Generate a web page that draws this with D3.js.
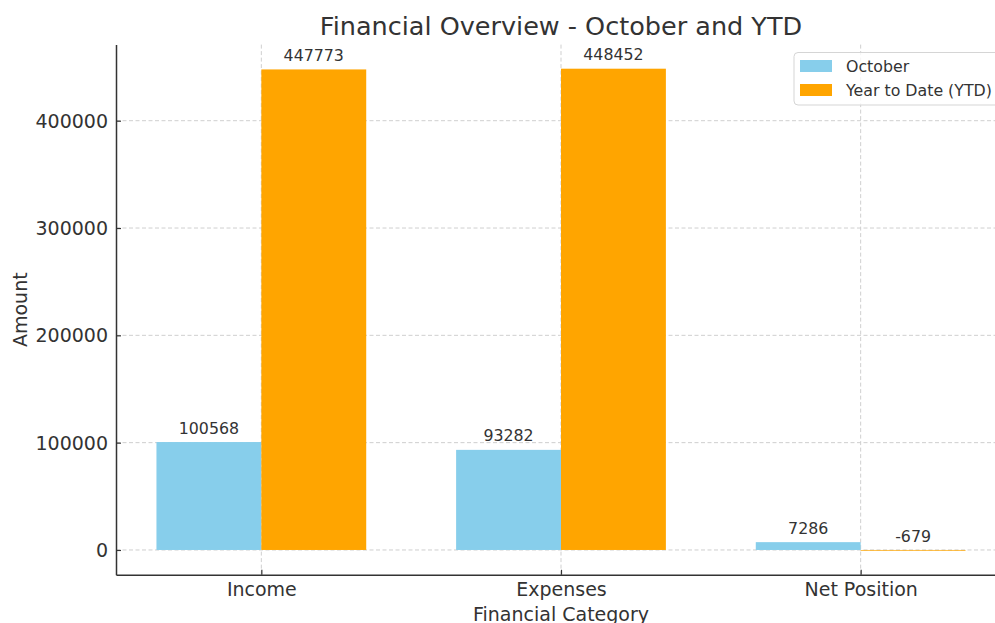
<!DOCTYPE html>
<html><head><meta charset="utf-8">
<script src="https://cdn.jsdelivr.net/npm/d3@7"></script>
<style>body{margin:0;background:#fff;} svg{display:block;} text{font-family:"DejaVu Sans",sans-serif;fill:#333;}</style>
</head><body>
<svg id="c" width="995" height="623"></svg>
<script>
const categories = ["Income", "Expenses", "Net Position"];
const october = [100568, 93282, 7286];
const ytd = [447773, 448452, -679];
const seriesNames = ["October", "Year to Date (YTD)"];
const seriesColors = ["#87CEEB", "#FFA500"];
const yTicks = [0, 100000, 200000, 300000, 400000];

const svg = d3.select("#c");
const L = 116, R = 1006, T = 44.6, B = 574.8;
const bw = 0.35;
const xmin = -bw, xmax = categories.length - 1 + bw, xm = (xmax - xmin) * 0.05;
const x = d3.scaleLinear().domain([xmin - xm, xmax + xm]).range([L, R]);
const all = october.concat(ytd, [0]);
const dmin = d3.min(all), dmax = d3.max(all), ym = (dmax - dmin) * 0.05;
const y = d3.scaleLinear().domain([dmin - ym, dmax + ym]).range([B, T]);

// grid
const g = svg.append("g");
g.selectAll(".hg").data(yTicks).join("line")
  .attr("x1", L).attr("x2", R).attr("y1", d => y(d)).attr("y2", d => y(d))
  .attr("stroke", "#cfcfcf").attr("stroke-width", 1).attr("stroke-dasharray", "4,2.5");
g.selectAll(".vg").data(categories).join("line")
  .attr("x1", (d, i) => x(i)).attr("x2", (d, i) => x(i)).attr("y1", T).attr("y2", B)
  .attr("stroke", "#cfcfcf").attr("stroke-width", 1).attr("stroke-dasharray", "4,2.5");

const series = [october, ytd];
series.forEach((vals, s) => {
  const off = s === 0 ? -bw : 0;
  svg.append("g").selectAll("rect").data(vals).join("rect")
    .attr("x", (d, i) => x(i + off))
    .attr("width", (d, i) => x(i + off + bw) - x(i + off))
    .attr("y", d => Math.min(y(d), y(0)))
    .attr("height", d => Math.max(Math.abs(y(d) - y(0)), 0.6))
    .attr("fill", seriesColors[s]);
  svg.append("g").selectAll("text").data(vals).join("text")
    .attr("x", (d, i) => x(i + off + bw / 2))
    .attr("y", d => y(d) - 8.5)
    .attr("text-anchor", "middle").attr("font-size", 15.8)
    .text(d => d);
});

// axes
const xAxis = d3.axisBottom(x).tickValues(categories.map((d, i) => i)).tickFormat(i => categories[i]).tickSizeInner(-5).tickSizeOuter(0).tickPadding(10);
const xa = svg.append("g").attr("transform", `translate(0,${B})`).call(xAxis);
const yAxis = d3.axisLeft(y).tickValues(yTicks).tickFormat(d => d).tickSizeInner(-5).tickSizeOuter(0).tickPadding(8);
const ya = svg.append("g").attr("transform", `translate(${L},0)`).call(yAxis);
[xa, ya].forEach(a => {
  a.select(".domain").attr("stroke", "#333").attr("stroke-width", 1.5);
  a.selectAll(".tick line").attr("stroke", "#333").attr("stroke-width", 1.2);
  a.selectAll(".tick text").attr("font-size", 19).attr("fill", "#333").attr("font-family", '"DejaVu Sans",sans-serif');
});
xa.selectAll(".tick text").attr("dy", null).attr("y", 21.5);
ya.selectAll(".tick text").attr("dy", "0.35em");

// labels
svg.append("text").attr("x", (L + R) / 2).attr("y", 35).attr("text-anchor", "middle").attr("font-size", 25.5)
  .text("Financial Overview - October and YTD");
svg.append("text").attr("x", (L + R) / 2).attr("y", 620.5).attr("text-anchor", "middle").attr("font-size", 19)
  .text("Financial Category");
svg.append("text").attr("transform", `translate(27,${(T + B) / 2}) rotate(-90)`).attr("text-anchor", "middle").attr("font-size", 19)
  .text("Amount");

// legend
const lg = svg.append("g");
lg.append("rect").attr("x", 794).attr("y", 52.5).attr("width", 210).attr("height", 52.5).attr("rx", 4)
  .attr("fill", "#fff").attr("fill-opacity", 0.8).attr("stroke", "#d5d5d5").attr("stroke-width", 1);
seriesNames.forEach((n, i) => {
  lg.append("rect").attr("x", 800).attr("y", 60 + i * 24).attr("width", 32).attr("height", 12).attr("fill", seriesColors[i]);
  lg.append("text").attr("x", 846).attr("y", 71.5 + i * 24).attr("font-size", 15.8).text(n);
});
</script>
</body></html>
